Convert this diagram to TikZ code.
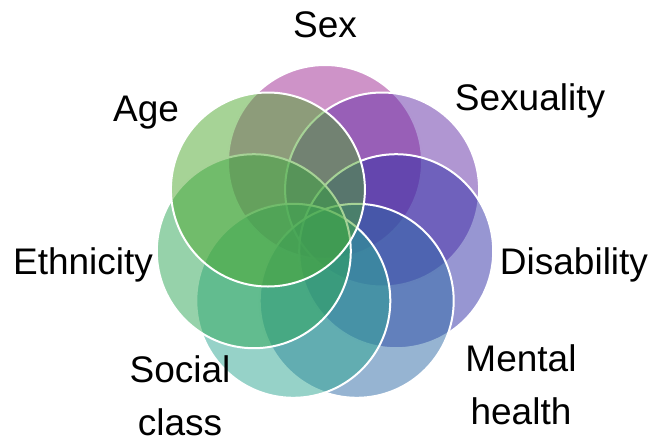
\documentclass[tikz,border=0pt]{standalone}
\usepackage{fontspec}
\setmainfont{Liberation Sans}
\definecolor{cSex}{RGB}{158,40,146}
\definecolor{cSexuality}{RGB}{98,45,166}
\definecolor{cDisability}{RGB}{48,46,166}
\definecolor{cMental}{RGB}{46,106,166}
\definecolor{cSocial}{RGB}{46,166,146}
\definecolor{cEthnicity}{RGB}{46,166,86}
\definecolor{cAge}{RGB}{78,167,46}
\tikzset{
  ring/.style={circle, minimum size=194pt, inner sep=0pt, outer sep=0pt, fill=#1, fill opacity=0.5, draw=white, draw opacity=1, line width=2pt},
  lbl/.style={font=\fontsize{37}{53}\selectfont, align=center, inner sep=0pt, text=black}
}
\begin{document}
\begin{tikzpicture}[x=1pt,y=-1pt]
\useasboundingbox (0,0) rectangle (652,445);
\node[ring=cSex] (sex) at (325,162) {};
\node[ring=cSexuality] (sexuality) at (382.1,189.5) {};
\node[ring=cDisability] (disability) at (396.2,251.2) {};
\node[ring=cMental] (mental) at (356.7,300.8) {};
\node[ring=cSocial] (social) at (293.3,300.8) {};
\node[ring=cEthnicity] (ethnicity) at (253.8,251.2) {};
\node[ring=cAge] (age) at (267.9,189.5) {};
\node[lbl] (tSex) at (325,25) {Sex};
\node[lbl] (tSexuality) at (530,101) {Sexuality};
\node[lbl] (tAge) at (146,113) {Age};
\node[lbl] (tEthnicity) at (83,265) {Ethnicity};
\node[lbl] (tDisability) at (574,265) {Disability};
\node[lbl] (tMental) at (521,385) {Mental\\health};
\node[lbl] (tSocial) at (180,396) {Social\\class};
\end{tikzpicture}
\end{document}
